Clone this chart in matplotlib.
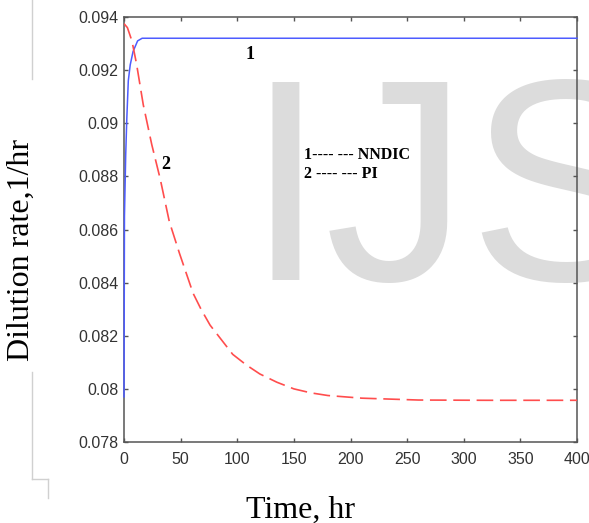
import matplotlib
matplotlib.use("Agg")
import matplotlib.pyplot as plt
from matplotlib.lines import Line2D

# ---- data ----
t_nndic = [0, 0.4, 1.5, 2.5, 3.8, 5.5, 8, 12, 16, 400]
d_nndic = [0.0797, 0.0865, 0.0888, 0.0902, 0.0916, 0.0922, 0.0927, 0.0931, 0.0932, 0.0932]

t_pi = [0, 3, 7, 11, 17, 24.5, 32, 40, 49, 61, 68, 76, 86, 96, 108, 120, 135, 150, 165,
        180, 210, 260, 320, 400]
d_pi = [0.09375, 0.0936, 0.0931, 0.09225, 0.0907, 0.0892, 0.0879, 0.0863, 0.0851, 0.0836,
        0.0830, 0.0824, 0.08185, 0.0813, 0.0809, 0.08056, 0.08025, 0.0800, 0.07985,
        0.07975, 0.07965, 0.07958, 0.07957, 0.07957]

xticks = [0, 50, 100, 150, 200, 250, 300, 350, 400]
xticklabels = ["0", "50", "100", "150", "200", "250", "300", "350", "400"]
yticks = [0.078, 0.080, 0.082, 0.084, 0.086, 0.088, 0.090, 0.092, 0.094]
yticklabels = ["0.078", "0.08", "0.082", "0.084", "0.086", "0.088", "0.09", "0.092", "0.094"]

W, H = 589, 523
fig = plt.figure(figsize=(W / 100, H / 100), dpi=100)
fig.patch.set_facecolor("white")

ax = fig.add_axes([124 / W, 1 - 442 / H, (577 - 124) / W, (442 - 17) / H])
ax.set_facecolor("none")

tick_font = ["Liberation Sans Narrow", "Liberation Sans", "DejaVu Sans"]
serif = ["Liberation Serif", "DejaVu Serif"]

# watermark
fig.text(245 / W, 1 - 280 / H, "IJS", fontsize=207, color="#dcdcdc",
         family=["Liberation Sans", "DejaVu Sans"], ha="left", va="baseline", zorder=-1)

ax.plot(t_nndic, d_nndic, color="#4d5cff", lw=1.1, zorder=3, clip_on=False)
ax.plot(t_pi, d_pi, color="#ff4d4d", lw=1.2, dashes=(10, 4), zorder=3)

ax.set_xlim(0, 400)
ax.set_ylim(0.078, 0.094)
ax.set_xticks(xticks)
ax.set_xticklabels(xticklabels)
ax.set_yticks(yticks)
ax.set_yticklabels(yticklabels)

for s in ax.spines.values():
    s.set_color("#555555")
    s.set_linewidth(1.1)

ax.tick_params(direction="in", length=3, width=1, color="#555555",
               top=True, right=True, labelcolor="#333333")
ax.tick_params(axis="x", pad=7)
ax.tick_params(axis="y", pad=4)
for lab in ax.get_xticklabels() + ax.get_yticklabels():
    lab.set_family(tick_font)
    lab.set_fontsize(11.5)

# curve labels
ax.text(0.278, 0.9106, "1", transform=ax.transAxes, family=serif, fontweight="bold",
        fontsize=13, ha="center", va="center")
ax.text(0.0927, 0.652, "2", transform=ax.transAxes, family=serif, fontweight="bold",
        fontsize=13, ha="center", va="center")
ax.text(0.397, 0.675, "1---- --- NNDIC", transform=ax.transAxes, family=serif,
        fontweight="bold", fontsize=11.5, ha="left", va="center")
ax.text(0.397, 0.6306, "2 ---- --- PI", transform=ax.transAxes, family=serif,
        fontweight="bold", fontsize=11.5, ha="left", va="center")

# axis titles
fig.text(21 / W, 1 - 250 / H, "Dilution rate,1/hr", rotation=90, family=serif,
         fontsize=23, ha="center", va="center")
fig.text(300 / W, 1 - 510 / H, "Time, hr", family=serif, fontsize=23,
         ha="center", va="center")

# faint border lines from the source page
grey = "#d0d0d0"
def fline(xs, ys):
    fig.add_artist(Line2D([x / W for x in xs], [1 - y / H for y in ys],
                          color=grey, lw=1.0, transform=fig.transFigure))
fline([32, 32], [0, 79])
fline([32, 32], [372, 479])
fline([32, 48], [479, 479])
fline([48, 48], [479, 498])

fig.savefig("out.png", dpi=100, facecolor="white")
